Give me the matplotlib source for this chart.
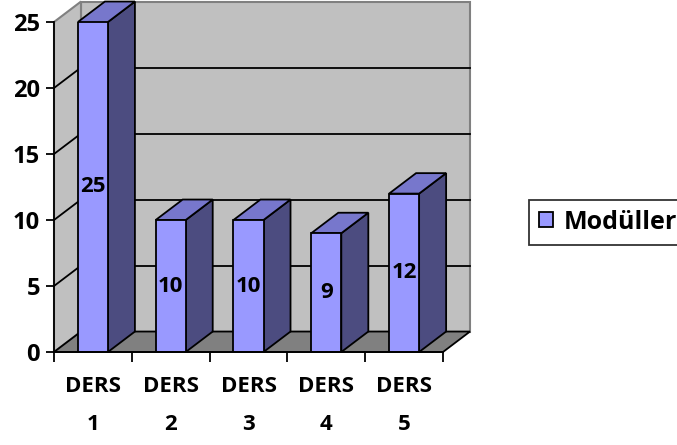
import matplotlib.pyplot as plt
from matplotlib.patches import Polygon
import numpy as np

plt.rcParams["font.family"] = ["Open Sans", "DejaVu Sans"]
plt.rcParams["font.weight"] = "bold"

categories = ["DERS\n1", "DERS\n2", "DERS\n3", "DERS\n4", "DERS\n5"]
modules = [25, 10, 10, 9, 12]
series_name = "Modüller"
y_ticks = [0, 5, 10, 15, 20, 25]

front = "#9999FF"
side = "#4C4C80"
top = "#7777CC"
wall = "#C0C0C0"
floor = "#808080"

fig = plt.figure(figsize=(6.77, 4.45), dpi=100)
ax = fig.add_axes([54 / 677, 93 / 445, 389 / 677, 330 / 445])
ax.set_xlim(-0.5, 4.5)
ax.set_ylim(0, 25)
ax.patch.set_visible(False)

# oblique depth offset in data units
dx, dy = 0.347, 1.55
x0, x1 = -0.5, 4.5
ymax = 25

# back wall, side wall, floor
ax.add_patch(Polygon([(x0 + dx, dy), (x1 + dx, dy), (x1 + dx, ymax + dy), (x0 + dx, ymax + dy)],
                     facecolor=wall, edgecolor=floor, lw=1.5, clip_on=False, zorder=1))
ax.add_patch(Polygon([(x0, 0), (x0 + dx, dy), (x0 + dx, ymax + dy), (x0, ymax)],
                     facecolor=wall, edgecolor=floor, lw=1.5, clip_on=False, zorder=1))
ax.add_patch(Polygon([(x0, 0), (x1, 0), (x1 + dx, dy), (x0 + dx, dy)],
                     facecolor=floor, edgecolor="black", lw=1.3, clip_on=False, zorder=2))

# gridlines on the walls
for g in y_ticks[1:-1]:
    ax.plot([x0 + dx, x1 + dx], [g + dy, g + dy], color="black", lw=1.3, clip_on=False, zorder=2)
    ax.plot([x0, x0 + dx], [g, g + dy], color="black", lw=1.3, clip_on=False, zorder=2)

# bars
w = 0.386
x = np.arange(len(categories))
bars = ax.bar(x, modules, width=w, color=front, edgecolor="black", lw=1.3,
              label=series_name, zorder=6)
for xi, v in zip(x, modules):
    r = xi + w / 2
    l = xi - w / 2
    ax.add_patch(Polygon([(r, 0), (r + dx, dy), (r + dx, v + dy), (r, v)],
                         facecolor=side, edgecolor="black", lw=1.3, clip_on=False, zorder=5))
    ax.add_patch(Polygon([(l, v), (r, v), (r + dx, v + dy), (l + dx, v + dy)],
                         facecolor=top, edgecolor="black", lw=1.3, clip_on=False, zorder=5))
ax.bar_label(bars, label_type="center", fontsize=16, fontweight="bold", zorder=7)

# axes
for s in ["top", "right"]:
    ax.spines[s].set_visible(False)
ax.spines["left"].set_linewidth(1.3)
ax.spines["bottom"].set_linewidth(1.3)
ax.spines["left"].set_zorder(8)
ax.spines["bottom"].set_zorder(8)

ax.set_yticks(y_ticks)
ax.tick_params(axis="y", length=6, width=1.3, pad=4, labelsize=17)
ax.set_xticks(x, categories, linespacing=2.1, fontweight="bold")
ax.set_xticks(np.arange(-0.5, 5, 1), minor=True)
ax.tick_params(axis="x", which="major", length=0, pad=17, labelsize=16)
ax.tick_params(axis="x", which="minor", length=7, width=1.3)
for t in ax.get_yticklabels():
    t.set_fontweight("bold")

leg = ax.legend(loc="center left", bbox_to_anchor=(529 / 677, 1 - 222 / 445),
                bbox_transform=fig.transFigure, fontsize=18, frameon=True, fancybox=False,
                handlelength=0.55, handleheight=0.55, handletextpad=0.45, borderpad=0.4,
                borderaxespad=0)
leg.get_frame().set_edgecolor("black")
leg.get_frame().set_linewidth(1.3)
for t in leg.get_texts():
    t.set_fontweight("bold")

fig.savefig("out.png", dpi=100)
